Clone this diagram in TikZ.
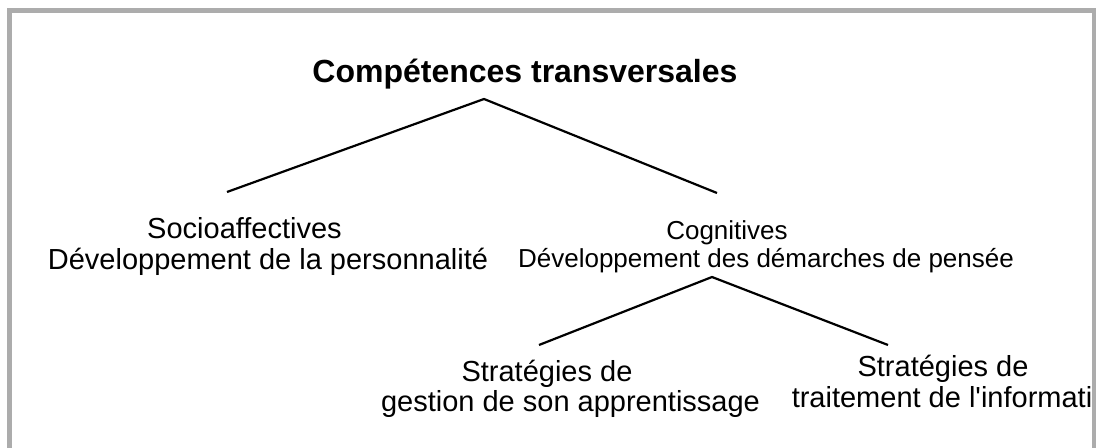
\documentclass[tikz,border=0pt]{standalone}
\usepackage{fontspec}
\setmainfont{Liberation Sans}
\definecolor{framegray}{RGB}{172,172,172}
\begin{document}
\begin{tikzpicture}[x=0.75pt,y=-0.75pt,
  frameline/.style={draw=framegray, line width=3.75pt},
  link/.style={draw=black, line width=1.65pt},
  ttl/.style={anchor=base, inner sep=0pt, font=\fontsize{24pt}{28pt}\selectfont\bfseries},
  lbl/.style={anchor=base, inner sep=0pt, font=\fontsize{21.75pt}{26pt}\selectfont},
  lblsmall/.style={anchor=base, inner sep=0pt, font=\fontsize{19.5pt}{23pt}\selectfont}]
\useasboundingbox (0,0) rectangle (1096,448);
\fill[white] (0,0) rectangle (1096,448);

% frame: left, top and right sides
\draw[frameline] (9.5,448) -- (9.5,10.5) -- (1094.5,10.5) -- (1094.5,448);

% title
\node[ttl] (title) at (525,83) {Compétences transversales};

% first level
\node[lbl] (soc) at (244.5,239) {Socioaffectives};
\node[lbl] (socdev) at (268,270) {Développement de la personnalité};
\node[lblsmall] (cog) at (727,240) {Cognitives};
\node[lblsmall] (cogdev) at (766,268) {Développement des démarches de pensée};

% second level
\node[lbl] (gest1) at (547,382) {Stratégies de};
\node[lbl] (gest2) at (570.5,412) {gestion de son apprentissage};
\node[lbl] (trait1) at (943,377) {Stratégies de};
\node[lbl] (trait2) at (942,408) {traitement de l\textquotesingle informati};

% branch points
\coordinate (topapex) at (484,99);
\coordinate (socend) at (227,192);
\coordinate (cogend) at (717,193);
\coordinate (cogapex) at (712,277);
\coordinate (gestend) at (539,345);
\coordinate (traitend) at (888,345);

\draw[link] (socend) -- (topapex) -- (cogend);
\draw[link] (gestend) -- (cogapex) -- (traitend);
\end{tikzpicture}
\end{document}
